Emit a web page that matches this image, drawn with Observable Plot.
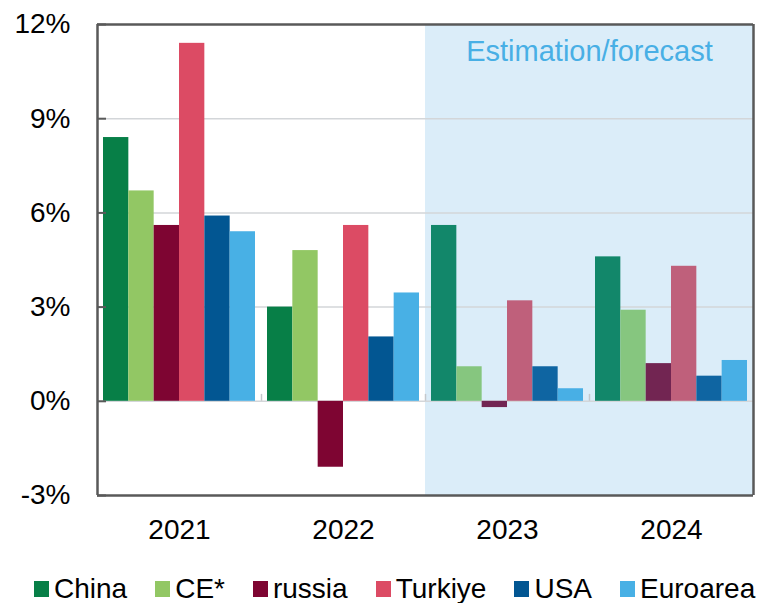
<!DOCTYPE html>
<html>
<head>
<meta charset="utf-8">
<script src="https://cdn.jsdelivr.net/npm/d3@7"></script>
<script src="https://cdn.jsdelivr.net/npm/@observablehq/plot@0.6"></script>
<style>
  html, body { margin: 0; padding: 0; background: #fff; overflow: hidden; }
  #chart { width: 761px; }
  #legend { display: flex; gap: 28px; padding-left: 34px; margin-top: 14px; white-space: nowrap;
            font-family: "Liberation Sans", Arial, sans-serif; font-size: 28px; line-height: 30px; color: #000; }
  #legend .item { display: inline-flex; align-items: center; }
  #legend .sw { display: inline-block; width: 15px; height: 16px; margin-right: 5px; }
</style>
</head>
<body>
<div id="chart"></div>
<script>
// ---- data ----
const years = ["2021", "2022", "2023", "2024"];
const forecastYears = ["2023", "2024"];
const series = ["China", "CE*", "russia", "Turkiye", "USA", "Euroarea"];
const china    = [8.4, 3.0, 5.6, 4.6];
const ce       = [6.7, 4.8, 1.1, 2.9];
const russia   = [5.6, -2.1, -0.2, 1.2];
const turkiye  = [11.4, 5.6, 3.2, 4.3];
const usa      = [5.9, 2.05, 1.1, 0.8];
const euroarea = [5.4, 3.45, 0.4, 1.3];
const yTicks = [-3, 0, 3, 6, 9, 12];
const gridTicks = [3, 6, 9];
const bannerLabel = "Estimation/forecast";

// ---- styles ----
const colorsActual   = ["#077F47", "#92C764", "#7E0532", "#DC4B64", "#025692", "#48B0E5"];
const colorsForecast = ["#12876A", "#86C67F", "#722552", "#BF607B", "#0F65A2", "#48AFE5"];

const valuesBySeries = [china, ce, russia, turkiye, usa, euroarea];
const rows = [];
years.forEach((yr, i) => {
  series.forEach((s, j) => {
    rows.push({
      year: yr, series: s, value: valuesBySeries[j][i],
      color: (forecastYears.includes(yr) ? colorsForecast : colorsActual)[j]
    });
  });
});

const W = 761, H = 560, mL = 97, mR = 8, mT = 24, mB = 65;
const facetW = (W - mL - mR) / years.length;
const frameColor = "#595959";
const gridColor = "#D3D6D9";

const plot = Plot.plot({
  width: W, height: H,
  marginLeft: mL, marginRight: mR, marginTop: mT, marginBottom: mB,
  style: { fontFamily: "'Liberation Sans', Arial, sans-serif", fontSize: "28px", color: "#000", background: "#fff", overflow: "visible" },
  fx: { domain: years, padding: 0, label: null },
  x: { domain: series, paddingInner: 0, paddingOuter: 0.237, axis: null, round: false },
  y: { domain: [-3, 12], label: null },
  color: { type: "identity" },
  marks: [
    Plot.rect(forecastYears, { fx: d => d, y1: -3, y2: 12, fill: "#DBEDF9" }),
    Plot.ruleY(gridTicks, { stroke: gridColor, strokeWidth: 1.5 }),
    Plot.ruleY([0], { stroke: gridColor, strokeWidth: 1.5 }),
    Plot.ruleX(years.slice(1), { fx: d => d, x: null, y1: 0, y2: 0.22, dx: -facetW / 2, stroke: "#C4C8CC", strokeWidth: 1.5 }),
    Plot.barY(rows, { fx: "year", x: "series", y: "value", fill: "color" }),
    Plot.ruleY([-3, 12], { stroke: frameColor, strokeWidth: 2.5 }),
    Plot.ruleX([years[0]], { fx: d => d, x: null, y1: -3, y2: 12, dx: -facetW / 2, stroke: frameColor, strokeWidth: 2.5 }),
    Plot.ruleX([years[years.length - 1]], { fx: d => d, x: null, y1: -3, y2: 12, dx: facetW / 2, stroke: frameColor, strokeWidth: 2.5 }),
    Plot.axisY({ ticks: yTicks, tickSize: 0, tickPadding: 27, tickFormat: d => `${d}%`, fontSize: 28, label: null }),
    Plot.axisY({ ticks: yTicks, tickSize: -9, tickFormat: () => "", stroke: frameColor, strokeWidth: 2, label: null }),
    Plot.axisFx({ anchor: "bottom", tickSize: 0, tickPadding: 24, fontSize: 28, label: null }),
    Plot.text([bannerLabel], { fx: () => forecastYears[forecastYears.length - 1], frameAnchor: "left", y: () => 12,
      dy: 27, textAnchor: "middle", lineAnchor: "middle", fill: "#48AFE5", fontSize: 29 })
  ]
});
document.getElementById("chart").appendChild(plot);

// legend
const legend = document.createElement("div");
legend.id = "legend";
series.forEach((s, j) => {
  const item = document.createElement("span");
  item.className = "item";
  const sw = document.createElement("span");
  sw.className = "sw";
  sw.style.background = colorsActual[j];
  item.appendChild(sw);
  item.appendChild(document.createTextNode(s));
  legend.appendChild(item);
});
document.body.appendChild(legend);
</script>
</body>
</html>
